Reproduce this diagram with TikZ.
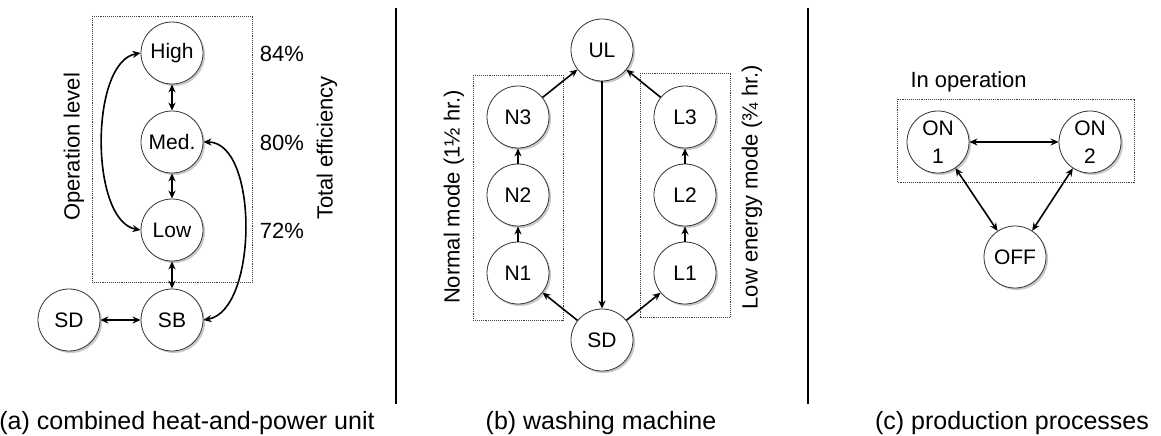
\documentclass[tikz,border=0pt]{standalone}
\usepackage{fontspec}
\setmainfont{Liberation Sans}
\usetikzlibrary{arrows.meta,shadows}

\tikzset{
	stnode/.style={circle,draw=black!80,line width=0.8pt,fill=white,minimum size=62pt,inner sep=0pt,
		font=\fontsize{21}{28}\selectfont,align=center,
		drop shadow={shadow xshift=2pt,shadow yshift=-2pt,opacity=0.3,fill=black!70}},
	trans/.style={line width=1.6pt,-{Stealth[length=8pt,width=7pt]}},
	both/.style={line width=1.6pt,{Stealth[length=8pt,width=7pt]}-{Stealth[length=8pt,width=7pt]}},
	groupbox/.style={draw=black!75,line width=0.9pt,densely dotted},
	lbl/.style={font=\fontsize{22}{26}\selectfont},
	caption/.style={font=\fontsize{25}{30}\selectfont,anchor=base},
}

\begin{document}
\begin{tikzpicture}[x=1pt,y=-1pt]
	\useasboundingbox (0,0) rectangle (1161,436);
	
	%dividers
	\draw[line width=1.2pt] (396,8) -- (396,404);
	\draw[line width=1.2pt] (808,8) -- (808,404);
	
	%(a) combined heat-and-power unit
	\draw[groupbox] (92,16) rectangle (252,282);
	\node[stnode] (high) at (172,53){High};
	\node[stnode] (med) at (172,142){Med.};
	\node[stnode] (low) at (172,230){Low};
	\node[stnode] (sb) at (172,320){SB};
	\node[stnode] (sda) at (69,320){SD};
	\node[lbl,rotate=90] (oplevel) at (74,147){Operation level};
	\node[lbl,rotate=90] (toteff) at (327,148){Total efficiency};
	\node[lbl] (effhigh) at (282,54){84\%};
	\node[lbl] (effmed) at (282,143){80\%};
	\node[lbl] (efflow) at (282,231){72\%};
	
	\draw[both] (high) -- (med);
	\draw[both] (med) -- (low);
	\draw[both] (low) -- (sb);
	\draw[both] (sda) -- (sb);
	\draw[both] (high.west) to[out=190,in=170,looseness=0.75] (low.west);
	\draw[both] (med.east) to[out=0,in=10,looseness=0.8] (sb.east);
	
	%(b) washing machine
	\draw[groupbox] (473,75) rectangle (563,320);
	\draw[groupbox] (640,73) rectangle (730,317);
	\node[stnode] (ul) at (602,50){UL};
	\node[stnode] (nthree) at (518,117){N3};
	\node[stnode] (ntwo) at (518,195){N2};
	\node[stnode] (none) at (518,273){N1};
	\node[stnode] (lthree) at (685,117){L3};
	\node[stnode] (ltwo) at (685,195){L2};
	\node[stnode] (lone) at (685,273){L1};
	\node[stnode] (sdb) at (602,340){SD};
	\node[lbl,rotate=90] (normal) at (454,197){Normal mode (1½ hr.)};
	\node[lbl,rotate=90] (lowen) at (752,187){Low energy mode (¾ hr.)};
	
	\draw[trans] (ul) -- (sdb);
	\draw[trans] (sdb) -- (none);
	\draw[trans] (none) -- (ntwo);
	\draw[trans] (ntwo) -- (nthree);
	\draw[trans] (nthree) -- (ul);
	\draw[trans] (sdb) -- (lone);
	\draw[trans] (lone) -- (ltwo);
	\draw[trans] (ltwo) -- (lthree);
	\draw[trans] (lthree) -- (ul);
	
	%(c) production processes
	\draw[groupbox] (897,99) rectangle (1134,182);
	\node[lbl,anchor=west] (inop) at (907,82){In operation};
	\node[stnode] (onone) at (938,142){ON\\1};
	\node[stnode] (ontwo) at (1090,142){ON\\2};
	\node[stnode] (off) at (1015,257){OFF};
	
	\draw[both] (onone) -- (ontwo);
	\draw[both] (onone) -- (off);
	\draw[both] (ontwo) -- (off);
	
	%captions
	\node[caption] (capa) at (187,429){(a) combined heat-and-power unit};
	\node[caption] (capb) at (601,429){(b) washing machine};
	\node[caption] (capc) at (1012,429){(c) production processes};
\end{tikzpicture}
\end{document}
